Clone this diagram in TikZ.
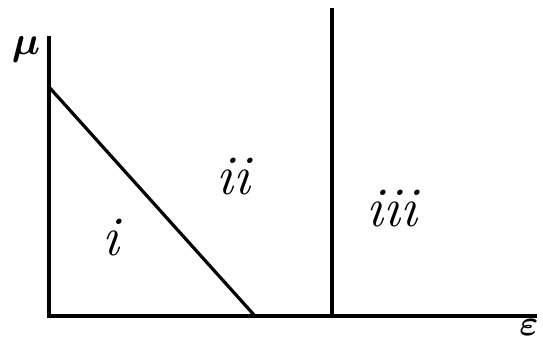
\RequirePackage{fix-cm}
\documentclass[tikz,border=0pt]{standalone}
\usepackage{amsmath}
\usepackage{bm}
\begin{document}
\begin{tikzpicture}[x=1pt,y=-1pt,
  axis/.style={line width=4pt},
  thin line/.style={line width=3.2pt},
  region/.style={font=\fontsize{56}{58}\selectfont\itshape, inner sep=0pt}]
\useasboundingbox (0,0) rectangle (543,342);
\coordinate (top) at (49,36);
\coordinate (origin) at (49,316);
\coordinate (xend) at (537,316);
\coordinate (dstart) at (49,87);
\coordinate (dend) at (255,316);
\coordinate (vtop) at (332,8);
\coordinate (vbot) at (332,316);
\draw[axis] (top) -- (origin) -- (xend);
\draw[thin line] (dstart) -- (dend);
\draw[axis] (vtop) -- (vbot);
\node[font=\fontsize{40}{42}\selectfont, inner sep=0pt] (mu) at (26,50) {$\bm{\mu}$};
\node[font=\fontsize{36}{38}\selectfont, inner sep=0pt] (eps) at (529,327) {$\bm{\varepsilon}$};
\node[region] (ri) at (111,238) {i};
\node[region] (rii) at (233,177) {ii};
\node[region] (riii) at (392,209) {iii};
\end{tikzpicture}
\end{document}
